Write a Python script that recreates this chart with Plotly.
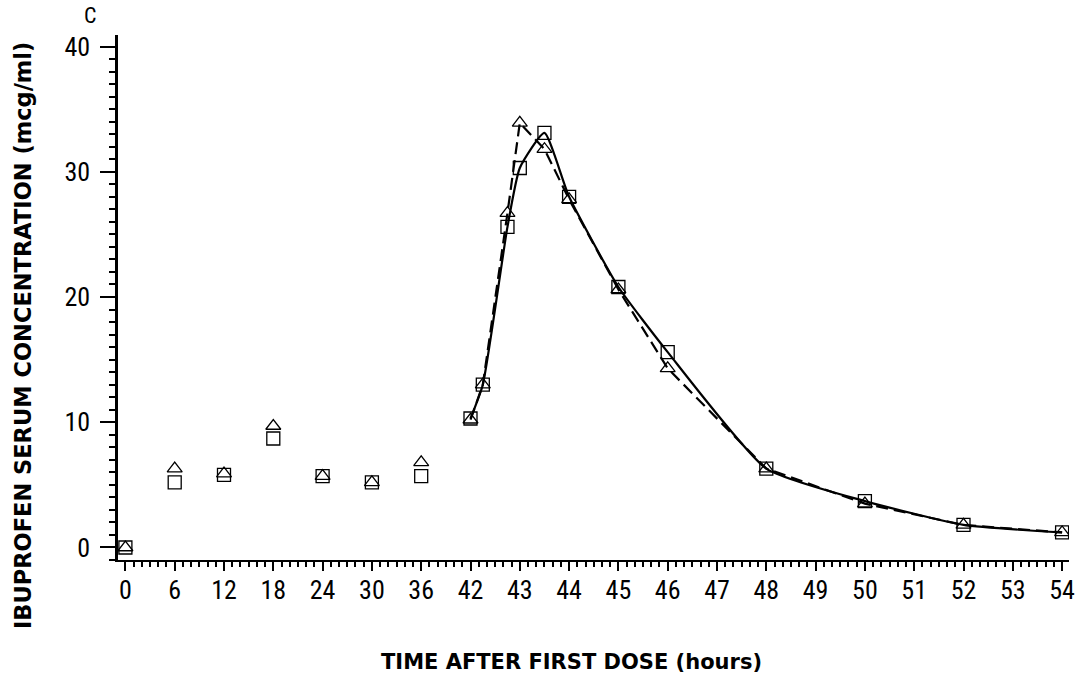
import plotly.graph_objects as go

# ---- data ----
tick_labels = ["0", "6", "12", "18", "24", "30", "36", "42", "43", "44", "45",
               "46", "47", "48", "49", "50", "51", "52", "53", "54"]

times = [0, 6, 12, 18, 24, 30, 36, 42, 42.25, 42.75, 43, 43.5, 44, 45, 46, 48, 50, 52, 54]
squares = [0.0, 5.2, 5.8, 8.7, 5.7, 5.2, 5.7, 10.3, 13.0, 25.6, 30.3, 33.1, 28.0, 20.8, 15.6, 6.3, 3.7, 1.8, 1.2]
triangles = [0.0, 6.3, 5.9, 9.7, 5.7, 5.2, 6.8, 10.2, 13.0, 26.7, 33.9, 31.8, 27.8, 20.6, 14.3, 6.3, 3.5, 1.8, 1.2]
line_start = 42  # curves drawn from the 42 h sample onward


def to_axis(t):
    """Broken time scale: 6-hour steps up to 42 h, then 1-hour steps."""
    return t / 6.0 if t <= 42 else 7 + (t - 42)


xs = [to_axis(t) for t in times]
line_idx = [i for i, t in enumerate(times) if t >= line_start]

fig = go.Figure()

# solid curve through squares
fig.add_trace(go.Scatter(
    x=[xs[i] for i in line_idx], y=[squares[i] for i in line_idx],
    mode="lines", line=dict(color="black", width=2.2, shape="spline", smoothing=0.5),
    showlegend=False, hoverinfo="skip"))
# dashed curve through triangles
fig.add_trace(go.Scatter(
    x=[xs[i] for i in line_idx], y=[triangles[i] for i in line_idx],
    mode="lines", line=dict(color="black", width=2.2, dash="12px,6px"),
    showlegend=False, hoverinfo="skip"))
# markers
fig.add_trace(go.Scatter(
    x=xs, y=squares, mode="markers", name="squares",
    marker=dict(symbol="square-open", size=13, color="black", line=dict(width=1.3)),
    showlegend=False))
fig.add_trace(go.Scatter(
    x=xs, y=triangles, mode="markers", name="triangles",
    marker=dict(symbol="triangle-up-open", size=13, color="black", line=dict(width=1.3)),
    showlegend=False))

tick_font = dict(family="Liberation Sans Narrow, Roboto Condensed, Liberation Sans, sans-serif",
                 size=26, color="black")

minor_x = [i / 6.0 for i in range(0, 19 * 6 + 1)]

fig.update_layout(
    width=1087, height=677,
    margin=dict(l=118, r=12, t=35, b=117),
    paper_bgcolor="white", plot_bgcolor="white",
    xaxis=dict(
        range=[-0.15, 19.14], showgrid=False, zeroline=False,
        showline=True, linecolor="black", linewidth=2,
        tickmode="array", tickvals=list(range(len(tick_labels))), ticktext=tick_labels,
        ticks="outside", ticklen=9, tickwidth=2, tickcolor="black",
        tickfont=tick_font, ticklabelstandoff=-3,
        minor=dict(tickvals=minor_x, ticks="outside", ticklen=5, tickwidth=1.5,
                   tickcolor="black", showgrid=False),
    ),
    yaxis=dict(
        range=[-1.0, 40.92], showgrid=False, zeroline=False,
        showline=True, linecolor="black", linewidth=2.5,
        tickmode="array", tickvals=[0, 10, 20, 30, 40],
        ticks="outside", ticklen=15, tickwidth=2, tickcolor="black",
        tickfont=tick_font, ticklabelstandoff=5,
        minor=dict(dtick=1, tick0=0, ticks="outside", ticklen=6, tickwidth=1.5,
                   tickcolor="black", showgrid=False),
    ),
    annotations=[
        dict(text="<b>TIME AFTER FIRST DOSE (hours)</b>", xref="paper", yref="paper",
             x=(574 - 118) / 957, y=-(662 - 560) / 525, xanchor="center", yanchor="middle",
             showarrow=False, font=dict(family="DejaVu Sans", size=21, color="black")),
        dict(text="<b>IBUPROFEN SERUM CONCENTRATION (mcg/ml)</b>", xref="paper", yref="paper",
             x=(22.5 - 118) / 957, y=(560 - 336) / 525, xanchor="center", yanchor="middle",
             textangle=-90, showarrow=False,
             font=dict(family="DejaVu Sans", size=22.5, color="black")),
        dict(text="C", xref="paper", yref="paper",
             x=(90 - 118) / 957, y=(560 - 2) / 525, xanchor="center", yanchor="top",
             showarrow=False, borderpad=0,
             font=dict(family=tick_font["family"], size=22, color="black")),
    ],
)

fig.write_html("out.html")
